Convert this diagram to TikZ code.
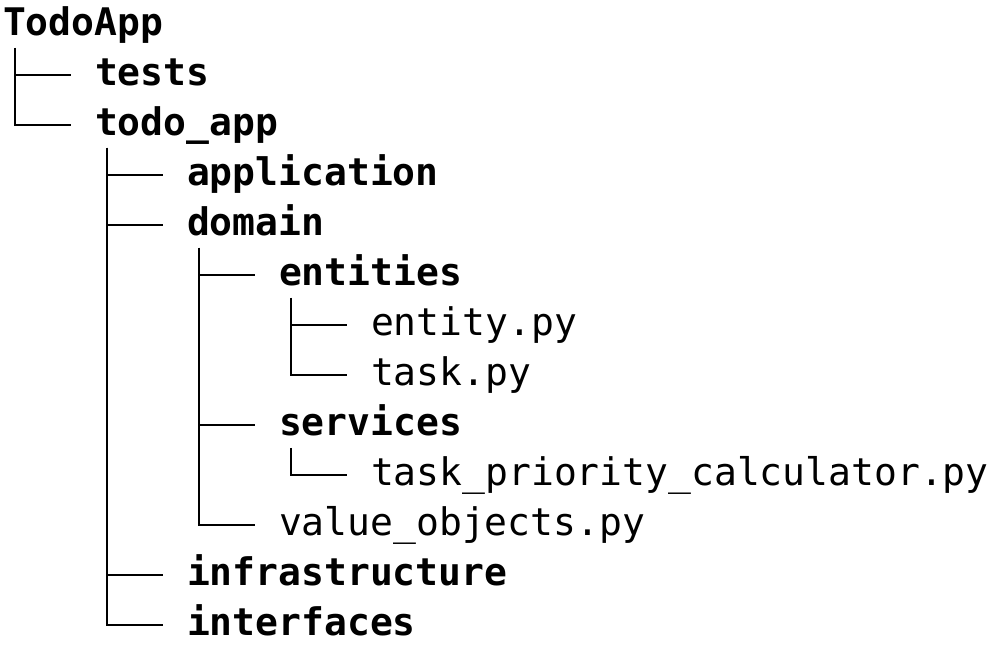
\documentclass[tikz,border=0pt]{standalone}
\usepackage{fontspec}
\setmonofont{DejaVu Sans Mono}

\begin{document}
\begin{tikzpicture}[x=0.5pt, y=-0.5pt, line width=1.1pt,
    dir/.style = {anchor=base west, inner sep=0pt, font=\ttfamily\bfseries\fontsize{19}{19}\selectfont},
    file/.style = {anchor=base west, inner sep=0pt, font=\ttfamily\fontsize{19}{19}\selectfont},
    every edge/.append style = {to path={([xshift=6.4pt, yshift=-6pt]\tikztostart.base west) |- ([xshift=-11.45pt, yshift=5.5pt]\tikztotarget.base west)}}]
    \useasboundingbox (0,0) rectangle (998,646);

    \node[dir] at (2, 36) (root){TodoApp};
    \node[dir] at (94, 86) (tests){tests};
    \node[dir] at (94, 136) (todoapp){todo\_app};
    \node[dir] at (186, 186) (application){application};
    \node[dir] at (186, 236) (domain){domain};
    \node[dir] at (278, 286) (entities){entities};
    \node[file] at (370, 336) (entity){entity.py};
    \node[file] at (370, 386) (task){task.py};
    \node[dir] at (278, 436) (services){services};
    \node[file] at (370, 486) (priority){task\_priority\_calculator.py};
    \node[file] at (278, 536) (valueobj){value\_objects.py};
    \node[dir] at (186, 586) (infra){infrastructure};
    \node[dir] at (186, 636) (interfaces){interfaces};

    \path
    (root) edge (tests)
    (root) edge (todoapp)

    (todoapp) edge (application)
    (todoapp) edge (domain)
    (todoapp) edge (infra)
    (todoapp) edge (interfaces)

    (domain) edge (entities)
    (domain) edge (services)
    (domain) edge (valueobj)

    (entities) edge (entity)
    (entities) edge (task)
    (services) edge (priority)
    ;
\end{tikzpicture}
\end{document}
